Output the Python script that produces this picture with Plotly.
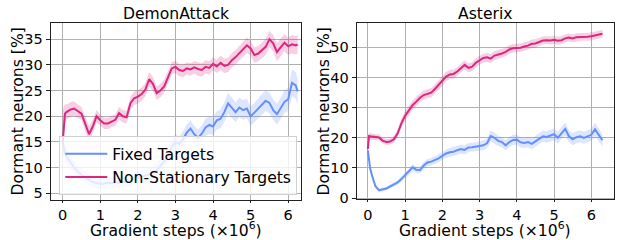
import plotly.graph_objects as go

# ---------------- data ----------------
X_DA = [0, 0.03, 0.06, 0.1, 0.2, 0.3, 0.4, 0.5, 0.6, 0.7, 0.8, 0.9, 1.0, 1.1, 1.2, 1.3, 1.4, 1.5,
        1.6, 1.7, 1.8, 1.9, 2.0, 2.1, 2.2, 2.3, 2.4, 2.5, 2.6, 2.7, 2.8, 2.9, 3.0, 3.1, 3.2, 3.3,
        3.4, 3.5, 3.6, 3.7, 3.8, 3.9, 4.0, 4.1, 4.2, 4.3, 4.4, 4.5, 4.6, 4.7, 4.8, 4.9, 5.0, 5.1,
        5.2, 5.3, 5.4, 5.5, 5.6, 5.7, 5.8, 5.9, 6.0, 6.1, 6.2, 6.25]

DA_NONSTAT = [15.0, 19.0, 20.5, 20.8, 21.3, 21.5, 21.0, 20.5, 18.5, 16.5, 18.0, 20.0, 19.2, 18.6,
              18.6, 18.9, 19.3, 20.6, 20.0, 19.8, 22.5, 23.5, 23.8, 24.3, 25.2, 27.2, 26.3, 24.5,
              25.0, 25.8, 27.5, 29.3, 29.6, 29.0, 28.8, 29.3, 29.1, 29.5, 29.2, 29.0, 29.6, 29.4,
              30.2, 29.7, 30.4, 29.8, 30.0, 30.9, 31.5, 32.3, 33.0, 33.8, 33.2, 31.9, 32.2, 32.8,
              33.5, 35.0, 34.2, 32.5, 33.4, 34.3, 33.6, 34.0, 33.8, 34.0]
DA_NONSTAT_SD = [6.0, 3.0, 1.8, 1.5, 1.4, 1.4, 1.3, 1.3, 1.4, 1.5, 1.3, 1.2, 1.1, 1.1,
                 1.1, 1.1, 1.1, 1.2, 1.2, 1.2, 1.3, 1.3, 1.3, 1.3, 1.3, 1.4, 1.4, 1.3,
                 1.3, 1.3, 1.3, 1.2, 1.2, 1.2, 1.2, 1.2, 1.2, 1.2, 1.3, 1.3, 1.3, 1.3,
                 1.3, 1.3, 1.4, 1.4, 1.4, 1.4, 1.4, 1.5, 1.5, 1.5, 1.5, 1.5, 1.5, 1.5,
                 1.6, 1.6, 1.6, 1.7, 1.7, 1.7, 1.7, 1.8, 1.8, 1.8]

DA_FIXED = [15.0, 13.5, 12.8, 12.2, 11.0, 10.0, 9.2, 8.5, 8.0, 7.6, 7.2, 7.0, 6.8, 6.9,
            7.1, 6.9, 7.2, 7.0, 7.3, 7.2, 7.4, 7.8, 8.0, 8.3, 8.4, 8.6, 8.9, 9.5,
            10.4, 11.2, 12.4, 14.0, 15.0, 14.6, 15.5, 16.8, 17.6, 16.5, 15.8, 16.6, 17.8, 18.3,
            18.0, 19.2, 19.5, 20.8, 22.5, 21.6, 20.8, 21.7, 21.2, 21.5, 20.0, 20.7, 21.5, 22.3,
            23.0, 22.6, 21.2, 20.4, 21.5, 22.8, 23.3, 26.5, 26.0, 24.8]
DA_FIXED_SD = [2.0, 1.8, 1.6, 1.5, 1.4, 1.3, 1.2, 1.2, 1.1, 1.1, 1.0, 1.0, 1.0, 1.0,
               1.0, 1.0, 1.0, 1.0, 1.0, 1.0, 1.0, 1.1, 1.1, 1.1, 1.2, 1.2, 1.3, 1.3,
               1.4, 1.4, 1.5, 1.5, 1.5, 1.5, 1.6, 1.6, 1.6, 1.6, 1.6, 1.6, 1.7, 1.7,
               1.7, 1.8, 1.8, 1.9, 2.0, 2.0, 1.9, 1.9, 1.9, 1.9, 1.9, 1.9, 2.0, 2.0,
               2.0, 2.0, 2.0, 2.0, 2.1, 2.2, 2.3, 2.6, 2.6, 2.4]

X_AS = [0, 0.03, 0.06, 0.1, 0.2, 0.3, 0.4, 0.5, 0.6, 0.7, 0.8, 0.9, 1.0, 1.1, 1.2, 1.3, 1.4, 1.5,
        1.6, 1.7, 1.8, 1.9, 2.0, 2.1, 2.2, 2.3, 2.4, 2.5, 2.6, 2.7, 2.8, 2.9, 3.0, 3.1, 3.2, 3.3,
        3.4, 3.5, 3.6, 3.7, 3.8, 3.9, 4.0, 4.1, 4.2, 4.3, 4.4, 4.5, 4.6, 4.7, 4.8, 4.9, 5.0, 5.1,
        5.2, 5.3, 5.4, 5.5, 5.6, 5.7, 5.8, 5.9, 6.0, 6.1, 6.2, 6.3]

AS_NONSTAT = [16.3, 20.6, 20.5, 20.4, 20.3, 20.1, 19.0, 18.6, 18.8, 19.5, 21.5, 24.8, 27.3, 29.0,
              30.8, 32.0, 33.3, 34.2, 34.6, 35.0, 36.2, 37.5, 38.7, 40.3, 41.0, 41.2, 42.0, 43.2,
              44.2, 43.2, 43.6, 44.9, 45.8, 46.5, 46.7, 46.3, 47.3, 47.6, 48.0, 48.5, 49.3, 49.7,
              49.8, 49.9, 50.3, 50.6, 51.2, 51.3, 51.8, 52.3, 52.4, 52.3, 52.5, 52.2, 52.4, 53.0,
              53.3, 53.0, 53.4, 53.4, 53.6, 53.5, 53.7, 53.9, 54.1, 54.5]
AS_NONSTAT_SD = [1.5, 1.2, 1.1, 1.0, 1.0, 1.0, 1.0, 1.0, 1.0, 1.1, 1.3, 1.5, 1.6, 1.6,
                 1.6, 1.6, 1.5, 1.5, 1.5, 1.5, 1.5, 1.5, 1.5, 1.5, 1.5, 1.5, 1.5, 1.5,
                 1.5, 1.5, 1.5, 1.5, 1.5, 1.5, 1.5, 1.5, 1.5, 1.5, 1.4, 1.4, 1.4, 1.4,
                 1.4, 1.4, 1.4, 1.4, 1.4, 1.4, 1.3, 1.3, 1.3, 1.3, 1.3, 1.3, 1.3, 1.3,
                 1.3, 1.3, 1.3, 1.3, 1.3, 1.3, 1.3, 1.3, 1.3, 1.3]

AS_FIXED = [15.8, 12.5, 10.0, 8.0, 4.0, 2.6, 2.8, 3.2, 3.9, 4.5, 5.2, 6.3, 7.6, 8.6,
            10.2, 9.4, 9.3, 10.8, 11.8, 12.1, 12.6, 13.2, 14.0, 14.8, 15.2, 15.4, 15.9, 16.3,
            16.0, 16.8, 16.9, 17.0, 17.3, 17.5, 18.2, 20.6, 20.0, 19.0, 18.6, 17.5, 18.6, 19.3,
            19.4, 18.5, 18.3, 18.6, 18.0, 18.8, 19.8, 20.5, 20.3, 20.7, 21.2, 20.0, 21.6, 23.0,
            20.5, 19.5, 20.2, 20.5, 20.0, 20.6, 21.0, 22.8, 20.8, 19.2]
AS_FIXED_SD = [1.0, 1.0, 1.0, 1.0, 0.8, 0.6, 0.6, 0.6, 0.7, 0.7, 0.8, 0.9, 1.0, 1.0,
               1.1, 1.1, 1.1, 1.2, 1.2, 1.2, 1.3, 1.3, 1.3, 1.4, 1.4, 1.4, 1.5, 1.5,
               1.5, 1.5, 1.5, 1.5, 1.6, 1.6, 1.6, 1.8, 1.8, 1.7, 1.7, 1.7, 1.7, 1.7,
               1.7, 1.7, 1.7, 1.7, 1.8, 1.8, 1.8, 1.9, 1.9, 1.9, 2.0, 2.0, 2.0, 2.2,
               2.0, 2.0, 2.0, 2.0, 2.0, 2.0, 2.0, 2.3, 2.1, 2.0]

TITLES = ["DemonAttack", "Asterix"]
SERIES_NAMES = ["Fixed Targets", "Non-Stationary Targets"]
BLUE = "#648FFF"
PINK = "#DC267F"
BLUE_FILL = "rgba(100,143,255,0.22)"
PINK_FILL = "rgba(220,38,127,0.22)"
FONT = "DejaVu Sans"
FS = 15.6
TICK_FS = 14.5

fig = go.Figure()


def add_series(x, y, sd, color, fill, name, xa, ya, showlegend):
    upper = [a + b for a, b in zip(y, sd)]
    lower = [a - b for a, b in zip(y, sd)]
    fig.add_trace(go.Scatter(x=x + x[::-1], y=upper + lower[::-1], fill="toself",
                             fillcolor=fill, line=dict(width=0), mode="lines",
                             hoverinfo="skip", showlegend=False, xaxis=xa, yaxis=ya))
    fig.add_trace(go.Scatter(x=x, y=y, mode="lines", line=dict(color=color, width=2),
                             name=name, showlegend=showlegend, xaxis=xa, yaxis=ya))


add_series(X_DA, DA_FIXED, DA_FIXED_SD, BLUE, BLUE_FILL, SERIES_NAMES[0], "x", "y", True)
add_series(X_DA, DA_NONSTAT, DA_NONSTAT_SD, PINK, PINK_FILL, SERIES_NAMES[1], "x", "y", True)
add_series(X_AS, AS_FIXED, AS_FIXED_SD, BLUE, BLUE_FILL, SERIES_NAMES[0], "x2", "y2", False)
add_series(X_AS, AS_NONSTAT, AS_NONSTAT_SD, PINK, PINK_FILL, SERIES_NAMES[1], "x2", "y2", False)

W, H = 618, 240
axis_common = dict(showgrid=True, gridcolor="#b0b0b0", gridwidth=1, showline=True,
                   linecolor="#222222", linewidth=1, mirror=True, ticks="outside",
                   ticklen=4, tickcolor="#222222", zeroline=False, automargin=False,
                   tickfont=dict(family=FONT, size=TICK_FS, color="black"))
x_extra = dict(ticklen=2)

fig.update_layout(
    width=W, height=H, margin=dict(l=0, r=0, t=0, b=0, autoexpand=False),
    paper_bgcolor="white", plot_bgcolor="white",
    font=dict(family=FONT, size=FS, color="black"),
    xaxis=dict(domain=[50.7 / W, 301 / W], range=[-0.32, 6.34], tickvals=[0, 1, 2, 3, 4, 5, 6],
               anchor="y", **{**axis_common, **x_extra}),
    yaxis=dict(domain=[1 - 200 / H, 1 - 22.7 / H], range=[3.7, 38.2],
               tickvals=[5, 10, 15, 20, 25, 30, 35], anchor="x", **axis_common),
    xaxis2=dict(domain=[356.7 / W, 614 / W], range=[-0.30, 6.61], tickvals=[0, 1, 2, 3, 4, 5, 6],
                anchor="y2", **{**axis_common, **x_extra}),
    yaxis2=dict(domain=[1 - 199.3 / H, 1 - 22.7 / H], range=[-0.4, 58.2],
                tickvals=[0, 10, 20, 30, 40, 50], anchor="x2", **axis_common),
    legend=dict(x=59.3 / W, y=1 - 136 / H, xanchor="left", yanchor="top",
                bgcolor="rgba(255,255,255,0.8)", bordercolor="#d0d0d0", borderwidth=1,
                itemwidth=42,
                font=dict(family=FONT, size=FS, color="black"), tracegroupgap=0),
    showlegend=True,
)

annots = []
for cx, title in [(176, TITLES[0]), (485, TITLES[1])]:
    annots.append(dict(x=cx / W, y=1 - 14 / H, xref="paper", yref="paper", text=title,
                       showarrow=False, xanchor="center", yanchor="middle",
                       font=dict(family=FONT, size=FS, color="black")))
    annots.append(dict(x=cx / W, y=1 - 229.5 / H, xref="paper", yref="paper",
                       text="Gradient steps (×10<sup>6</sup>)", showarrow=False,
                       xanchor="center", yanchor="middle",
                       font=dict(family=FONT, size=FS, color="black")))
for cx in [17.5, 323.5]:
    annots.append(dict(x=cx / W, y=1 - 112 / H, xref="paper", yref="paper",
                       text="Dormant neurons [%]", textangle=-90, showarrow=False,
                       xanchor="center", yanchor="middle",
                       font=dict(family=FONT, size=FS, color="black")))
fig.update_layout(annotations=annots)

fig.write_html("out.html", config={"displayModeBar": False},
               post_script="document.body.style.margin='0';document.body.style.overflow='hidden';")
